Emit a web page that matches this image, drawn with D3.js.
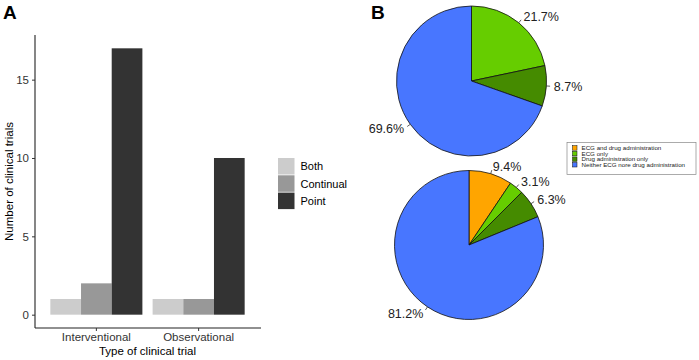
<!DOCTYPE html>
<html>
<head>
<meta charset="utf-8">
<script src="https://cdn.jsdelivr.net/npm/d3@7"></script>
<style>
  html, body { margin: 0; padding: 0; background: #fff; }
  svg { display: block; font-family: 'Liberation Sans', Arial, sans-serif; }
</style>
</head>
<body>
<script>
// panel A data
const trialTypes = ['Interventional', 'Observational'];
const measureTypes = ['Both', 'Continual', 'Point'];
const interventional = [1, 2, 17];
const observational = [1, 1, 10];
const yTicks = [0, 5, 10, 15];
const greys = ['#cccccc', '#989898', '#333333'];

// panel B data (percent)
const pieCategories = [
  'ECG and drug administration',
  'ECG only',
  'Drug administration only',
  'Neither ECG nore drug administration',
];
const topPie = [0, 21.7, 8.7, 69.6];
const bottomPie = [9.4, 3.1, 6.3, 81.2];
const pieColors = ['#FFA500', '#66CD00', '#458B00', '#4876FF'];

const width = 699;
const height = 360;

const svg = d3.select('body')
  .append('svg')
  .attr('width', width)
  .attr('height', height);

// ---- A: grouped bars ----
const panel = { left: 35, right: 260, top: 35, bottom: 328 };

const x = d3.scaleBand()
  .domain(trialTypes)
  .range([panel.left, panel.right])
  .paddingInner(0.1)
  .paddingOuter(0.15);

const xSub = d3.scaleBand()
  .domain(measureTypes)
  .range([0, x.bandwidth()]);

const y = d3.scaleLinear()
  .domain([-0.85, 17.85])
  .range([panel.bottom, panel.top]);

const color = d3.scaleOrdinal().domain(measureTypes).range(greys);

const rows = trialTypes.map((t, i) => ({
  type: t,
  values: (i === 0 ? interventional : observational).map((v, j) => ({ key: measureTypes[j], value: v })),
}));

const gA = svg.append('g');

gA.selectAll('g.group')
  .data(rows)
  .enter()
  .append('g')
  .attr('class', 'group')
  .attr('transform', (d) => `translate(${x(d.type)},0)`)
  .selectAll('rect')
  .data((d) => d.values)
  .enter()
  .append('rect')
  .attr('x', (d) => xSub(d.key))
  .attr('width', xSub.bandwidth())
  .attr('y', (d) => y(d.value))
  .attr('height', (d) => y(0) - y(d.value))
  .attr('fill', (d) => color(d.key));

const yAxis = gA.append('g')
  .attr('transform', `translate(${panel.left},0)`)
  .call(d3.axisLeft(y).tickValues(yTicks).tickSize(3).tickPadding(3));
yAxis.select('.domain').attr('d', `M0,${panel.top}V${panel.bottom}`);

const xAxis = gA.append('g')
  .attr('transform', `translate(0,${panel.bottom})`)
  .call(d3.axisBottom(x).tickSize(3).tickPadding(2));
xAxis.select('.domain').attr('d', `M${panel.left},0H${panel.right + 1}`);

gA.selectAll('.domain').attr('stroke', '#222').attr('stroke-width', 1.1);
gA.selectAll('.tick line').attr('stroke', '#333');
gA.selectAll('.tick text')
  .attr('fill', '#333')
  .style('font-size', '11.5px')
  .style('font-family', "'Liberation Sans', Arial, sans-serif");

gA.append('text')
  .attr('x', (panel.left + panel.right) / 2)
  .attr('y', 355)
  .attr('text-anchor', 'middle')
  .style('font-size', '11.5px')
  .text('Type of clinical trial');

gA.append('text')
  .attr('transform', `translate(12.5,${(panel.top + panel.bottom) / 2}) rotate(-90)`)
  .attr('text-anchor', 'middle')
  .style('font-size', '11.5px')
  .text('Number of clinical trials');

// legend A
const legA = gA.append('g').attr('transform', 'translate(278,158)');
measureTypes.forEach((m, i) => {
  legA.append('rect')
    .attr('x', 0)
    .attr('y', i * 17.3)
    .attr('width', 16.5)
    .attr('height', 16.5)
    .attr('fill', color(m));
  legA.append('text')
    .attr('x', 22.5)
    .attr('y', i * 17.3 + 12.3)
    .style('font-size', '11px')
    .text(m);
});

// panel letters
svg.append('text').attr('x', 3).attr('y', 18.5)
  .style('font-size', '19px').style('font-weight', 'bold').text('A');
svg.append('text').attr('x', 371).attr('y', 18.5)
  .style('font-size', '19px').style('font-weight', 'bold').text('B');

// ---- B: pies ----
const pie = d3.pie().sort(null).value((d) => d);

function drawPie(values, cx, cy, r) {
  const g = svg.append('g').attr('transform', `translate(${cx},${cy})`);
  const arcs = pie(values);
  const arc = d3.arc().innerRadius(0).outerRadius(r);

  g.selectAll('path')
    .data(arcs.filter((d) => d.value > 0))
    .enter()
    .append('path')
    .attr('d', arc)
    .attr('fill', (d) => pieColors[d.index])
    .attr('stroke', '#111')
    .attr('stroke-width', 0.8);

  const labelled = arcs.filter((d) => d.value > 0);
  labelled.forEach((d) => {
    const a = (d.startAngle + d.endAngle) / 2;
    const sx = Math.sin(a);
    const sy = -Math.cos(a);
    g.append('line')
      .attr('x1', sx * r).attr('y1', sy * r)
      .attr('x2', sx * r * 1.05).attr('y2', sy * r * 1.05)
      .attr('stroke', '#333').attr('stroke-width', 0.8);
    g.append('text')
      .attr('x', sx * r * 1.1)
      .attr('y', sy * r * 1.1)
      .attr('dy', '0.36em')
      .attr('text-anchor', sx < 0 ? 'end' : 'start')
      .style('font-size', '12.5px')
      .attr('fill', '#222')
      .text(d3.format('.1f')(d.value) + '%');
  });
}

drawPie(topPie, 471.5, 81, 75);
drawPie(bottomPie, 469, 245, 74.5);

// legend B
const legB = svg.append('g').attr('transform', 'translate(567,142.5)');
legB.append('rect')
  .attr('width', 129).attr('height', 32)
  .attr('fill', '#fff').attr('stroke', '#888').attr('stroke-width', 0.7);
pieCategories.forEach((c, i) => {
  legB.append('rect')
    .attr('x', 5.5).attr('y', 3.2 + i * 5.6)
    .attr('width', 4.5).attr('height', 4.5)
    .attr('fill', pieColors[i]).attr('stroke', '#111').attr('stroke-width', 0.5);
  legB.append('text')
    .attr('x', 14.5).attr('y', 7.5 + i * 5.6)
    .style('font-size', '6.2px')
    .attr('fill', '#222')
    .text(c);
});
</script>
</body>
</html>
